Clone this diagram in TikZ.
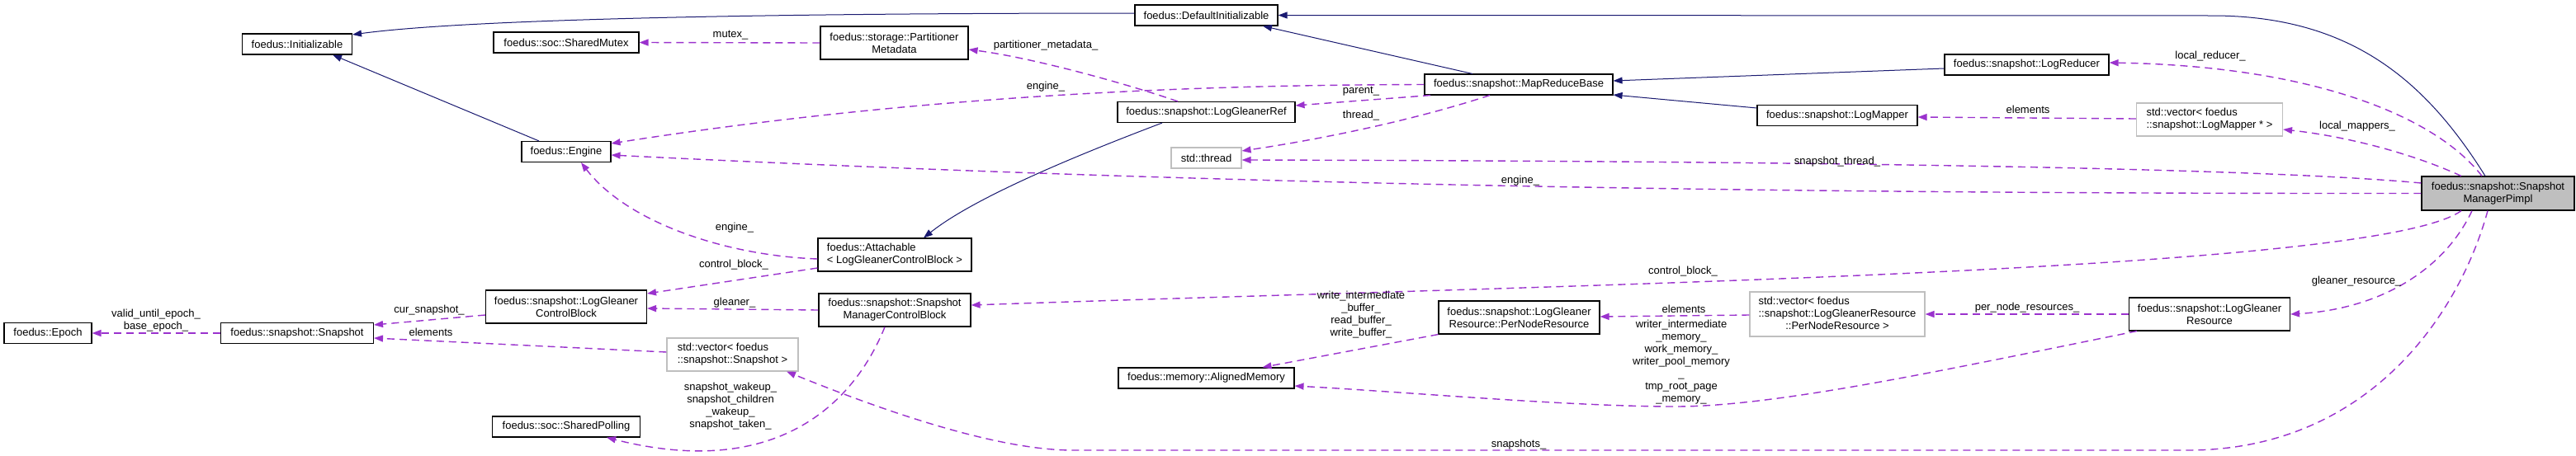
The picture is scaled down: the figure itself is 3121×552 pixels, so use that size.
\documentclass[tikz,border=0pt]{standalone}
\usepackage{fontspec}
\setmainfont{Liberation Sans}
\usetikzlibrary{arrows.meta}
\definecolor{inherit}{HTML}{191970}
\definecolor{usage}{HTML}{9A32CD}
\definecolor{extgray}{HTML}{BFBFBF}
\newcommand{\dotfont}{\fontsize{13}{15}\selectfont}
\tikzset{
  classbox/.style={draw=black, line width=1.1pt, fill=white, font=\dotfont,
    align=center, inner sep=0pt, minimum height=25pt},
  twoline/.style={minimum height=40pt},
  extbox/.style={classbox, draw=extgray},
  focusbox/.style={classbox, fill=extgray},
  inheritarrow/.style={color=inherit, line width=1pt, -{Triangle[length=11pt,width=8pt]}},
  usearrow/.style={color=usage, line width=1.4pt, dash pattern=on 9pt off 6pt,
    -{Triangle[length=11pt,width=8pt]}},
  edgelabel/.style={font=\dotfont, align=center, inner sep=0pt, text=black}
}

\begin{document}
\begin{tikzpicture}[x=1pt, y=-1pt]
  \path[use as bounding box, fill=white] (0,0) rectangle (3121,552);
  % classes
  \node[classbox, minimum width=133pt] (init) at (360,53.5) {foedus::Initializable};
  \node[classbox, minimum width=176pt] (mutex) at (686,51.5) {foedus::soc::SharedMutex};
  \node[classbox, minimum width=108pt] (engine) at (686,184) {foedus::Engine};
  \node[classbox, minimum width=106pt] (epoch) at (58,404) {foedus::Epoch};
  \node[classbox, minimum width=185pt] (snap) at (360,404) {foedus::snapshot::Snapshot};
  \node[classbox, twoline, minimum width=195pt] (lgcb) at (686,372) {foedus::snapshot::LogGleaner\\ControlBlock};
  \node[classbox, minimum width=179pt] (polling) at (686,517.5) {foedus::soc::SharedPolling};
  \node[classbox, minimum width=173pt] (definit) at (1461.5,18.5) {foedus::DefaultInitializable};
  \node[classbox, twoline, minimum width=179pt] (partmeta) at (1083.5,52) {foedus::storage::Partitioner\\Metadata};
  \node[classbox, minimum width=215pt] (lgref) at (1461.5,136) {foedus::snapshot::LogGleanerRef};
  \node[extbox, minimum width=85pt] (thread) at (1461.5,191.5) {std::thread};
  \node[classbox, twoline, align=left, minimum width=186pt] (attach) at (1084,309) {foedus::Attachable\\< LogGleanerControlBlock >};
  \node[classbox, twoline, minimum width=184pt] (smcb) at (1084,376) {foedus::snapshot::Snapshot\\ManagerControlBlock};
  \node[extbox, twoline, align=left, minimum width=159pt] (vsnap) at (887.5,430) {std::vector< foedus\\::snapshot::Snapshot >};
  \node[classbox, minimum width=213pt] (aligned) at (1461.5,458.5) {foedus::memory::AlignedMemory};
  \node[classbox, minimum width=228pt] (mrb) at (1840,102.5) {foedus::snapshot::MapReduceBase};
  \node[classbox, minimum width=194pt] (mapper) at (2226,140) {foedus::snapshot::LogMapper};
  \node[classbox, twoline, minimum width=195pt] (pnr) at (1840.5,385) {foedus::snapshot::LogGleaner\\Resource::PerNodeResource};
  \node[extbox, minimum width=212pt, minimum height=54pt] (vpnr) at (2226,381)
    {\begin{tabular}{@{}l@{}}std::vector< foedus\\::snapshot::LogGleanerResource\\\multicolumn{1}{@{}c@{}}{::PerNodeResource >}\end{tabular}};
  \node[classbox, minimum width=199pt] (reducer) at (2455.5,78.5) {foedus::snapshot::LogReducer};
  \node[extbox, twoline, align=left, minimum width=177pt] (vmapper) at (2677,145) {std::vector< foedus\\::snapshot::LogMapper * >};
  \node[focusbox, minimum width=185pt, minimum height=41pt] (pimpl) at (3026.5,234.5) {foedus::snapshot::Snapshot\\ManagerPimpl};
  \node[classbox, twoline, minimum width=195pt] (lgres) at (2677,381) {foedus::snapshot::LogGleaner\\Resource};
  % inheritance
  \draw[inheritarrow] ([yshift=2.5pt]definit.west) .. controls (900,16) and (560,24) .. ([yshift=11.5pt]init.east);
  \draw[inheritarrow] ([xshift=-33pt]engine.north) -- ([xshift=43pt]init.south);
  \draw[inheritarrow] ([xshift=-15.5pt]pimpl.north) .. controls (2940,100) and (2850,19) .. (2680,19) -- (definit.east);
  \draw[inheritarrow] ([xshift=-56pt]mrb.north) -- ([xshift=68.5pt]definit.south);
  \draw[inheritarrow] ([yshift=-4.5pt]reducer.west) -- ([yshift=4.5pt]mrb.east);
  \draw[inheritarrow] ([yshift=9pt]mapper.west) -- ([yshift=-12.5pt]mrb.east);
  \draw[inheritarrow] ([xshift=-53.5pt]lgref.south) .. controls (1300,190) and (1180,240) .. ([xshift=35pt]attach.north);
  % members
  \draw[usearrow] (partmeta.west) -- (mutex.east);
  \draw[usearrow] ([xshift=-34.5pt]lgref.north) .. controls (1360,100) and (1250,70) .. ([yshift=-8pt]partmeta.east);
  \draw[usearrow] (mrb.west) .. controls (1500,103) and (1150,110) .. ([yshift=10pt]engine.east);
  \draw[usearrow] ([xshift=-107pt]mrb.south) -- ([yshift=8pt]lgref.east);
  \draw[usearrow] ([xshift=-35pt]mrb.south) .. controls (1700,150) and (1580,172) .. ([yshift=8.5pt]thread.east);
  \draw[usearrow] ([yshift=12.5pt]pimpl.west) .. controls (2700,200) and (2000,195) .. ([yshift=-2.5pt]thread.east);
  \draw[usearrow] (pimpl.west) .. controls (2200,235) and (1500,226) .. ([yshift=-4pt]engine.east);
  \draw[usearrow] ([yshift=-5pt]attach.west) .. controls (880,310) and (760,270) .. ([xshift=18pt]engine.south);
  \draw[usearrow] ([yshift=-16pt]attach.west) -- ([yshift=16pt]lgcb.east);
  \draw[usearrow] (smcb.west) -- ([yshift=-2pt]lgcb.east);
  \draw[usearrow] ([yshift=-10pt]lgcb.west) -- ([yshift=10pt]snap.east);
  \draw[usearrow] ([yshift=3pt]vsnap.west) -- ([yshift=-6pt]snap.east);
  \draw[usearrow] (snap.west) -- (epoch.east);
  \draw[usearrow] ([xshift=-12pt]smcb.south) .. controls (1030,500) and (930,580) .. ([xshift=49pt]polling.south);
  \draw[usearrow] ([xshift=-44.5pt]pimpl.south) .. controls (2880,330) and (1900,345) .. ([yshift=6pt]smcb.east);
  \draw[usearrow] ([xshift=-19.5pt]pimpl.north) .. controls (2950,140) and (2800,80) .. ([yshift=2.5pt]reducer.east);
  \draw[usearrow] ([xshift=-44.5pt]pimpl.north) .. controls (2920,185) and (2840,165) .. ([yshift=-12pt]vmapper.east);
  \draw[usearrow] ([yshift=1pt]vmapper.west) -- ([yshift=-2pt]mapper.east);
  \draw[usearrow] ([xshift=-31.5pt]pimpl.south) .. controls (2960,330) and (2880,375) .. (lgres.east);
  \draw[usearrow] (lgres.west) -- (vpnr.east);
  \draw[usearrow] ([yshift=-1pt]vpnr.west) -- ([yshift=1pt]pnr.east);
  \draw[usearrow] (pnr.south west) -- ([xshift=68pt]aligned.north);
  \draw[usearrow] ([xshift=10pt]lgres.south west) .. controls (2350,450) and (2150,493) .. (2030,493)
    .. controls (1900,493) and (1700,475) .. ([yshift=-9.5pt]aligned.east);
  \draw[usearrow] ([xshift=-12.5pt]pimpl.south) .. controls (2980,380) and (2870,546) .. (2650,546) -- (1300,546)
    .. controls (1200,546) and (1050,490) .. ([xshift=65.5pt]vsnap.south);
  % member names
  \node[edgelabel] (lmutex) at (885,43) {mutex\_};
  \node[edgelabel] (lpart) at (1267,55) {partitioner\_metadata\_};
  \node[edgelabel] (lmrbengine) at (1267,105) {engine\_};
  \node[edgelabel] (lattengine) at (890,276) {engine\_};
  \node[edgelabel] (lattcb) at (889,321) {control\_block\_};
  \node[edgelabel] (lgleaner) at (890,367) {gleaner\_};
  \node[edgelabel] (lpolling) at (885,493) {snapshot\_wakeup\_\\snapshot\_children\\\_wakeup\_\\snapshot\_taken\_};
  \node[edgelabel] (lepoch) at (189,388.5) {valid\_until\_epoch\_\\base\_epoch\_};
  \node[edgelabel] (lcursnap) at (520,376) {cur\_snapshot\_};
  \node[edgelabel] (lsnapelem) at (522,403) {elements};
  \node[edgelabel] (lparent) at (1649,111) {parent\_};
  \node[edgelabel] (lthread) at (1649,140) {thread\_};
  \node[edgelabel] (lsnapthread) at (2226,196) {snapshot\_thread\_};
  \node[edgelabel] (lpimplengine) at (1842,219) {engine\_};
  \node[edgelabel] (lpimplcb) at (2039,329) {control\_block\_};
  \node[edgelabel] (lpnrmem) at (1649,381.5) {write\_intermediate\\\_buffer\_\\read\_buffer\_\\write\_buffer\_};
  \node[edgelabel] (lpnrelem) at (2040,375) {elements};
  \node[edgelabel] (lresmem) at (2037,439) {writer\_intermediate\\\_memory\_\\work\_memory\_\\writer\_pool\_memory\\\_\\tmp\_root\_page\\\_memory\_};
  \node[edgelabel] (lsnapshots) at (1840,539) {snapshots\_};
  \node[edgelabel] (lreducer) at (2678,68) {local\_reducer\_};
  \node[edgelabel] (lmappers) at (2856,153) {local\_mappers\_};
  \node[edgelabel] (lmapelem) at (2457,133) {elements};
  \node[edgelabel] (lgres) at (2855,341) {gleaner\_resource\_};
  \node[edgelabel] (lpernode) at (2456,373) {per\_node\_resources\_};
\end{tikzpicture}
\end{document}
